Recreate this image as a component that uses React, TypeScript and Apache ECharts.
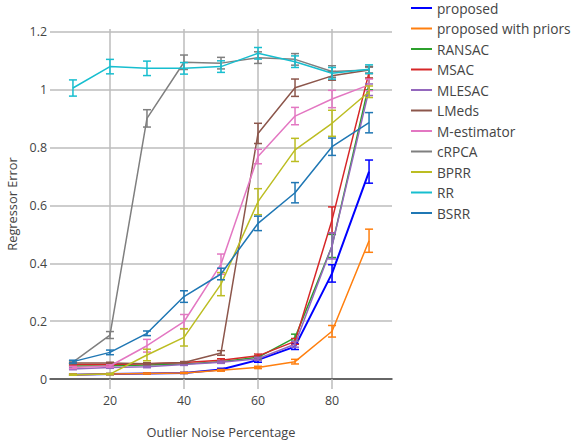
import React, { useEffect, useRef } from "react";
import * as echarts from "echarts";

const xValues = [10, 20, 30, 40, 50, 60, 70, 80, 90];
const xTicks = [20, 40, 60, 80];
const yTicks = [0, 0.2, 0.4, 0.6, 0.8, 1, 1.2];

const proposed = [0.015, 0.017, 0.019, 0.021, 0.033, 0.066, 0.112, 0.365, 0.717];
const proposedErr = [0.002, 0.002, 0.002, 0.002, 0.004, 0.008, 0.01, 0.03, 0.04];
const priors = [0.015, 0.017, 0.019, 0.021, 0.03, 0.04, 0.06, 0.165, 0.478];
const priorsErr = [0.002, 0.002, 0.002, 0.002, 0.003, 0.004, 0.008, 0.02, 0.04];
const ransac = [0.045, 0.046, 0.048, 0.052, 0.06, 0.075, 0.143, 0.46, 1.02];
const ransacErr = [0.003, 0.003, 0.003, 0.003, 0.004, 0.005, 0.012, 0.04, 0.02];
const msac = [0.05, 0.05, 0.053, 0.057, 0.065, 0.08, 0.13, 0.55, 1.06];
const msacErr = [0.003, 0.003, 0.003, 0.003, 0.005, 0.006, 0.01, 0.045, 0.02];
const mlesac = [0.035, 0.04, 0.042, 0.05, 0.058, 0.07, 0.12, 0.46, 1.0];
const mlesacErr = [0.003, 0.003, 0.003, 0.003, 0.004, 0.005, 0.01, 0.045, 0.02];
const lmeds = [0.055, 0.055, 0.053, 0.057, 0.09, 0.849, 1.007, 1.048, 1.068];
const lmedsErr = [0.003, 0.003, 0.003, 0.003, 0.008, 0.035, 0.03, 0.015, 0.012];
const mest = [0.04, 0.045, 0.115, 0.198, 0.397, 0.769, 0.909, 0.968, 1.017];
const mestErr = [0.004, 0.004, 0.022, 0.025, 0.035, 0.025, 0.03, 0.03, 0.02];
const crpca = [0.058, 0.152, 0.901, 1.095, 1.092, 1.111, 1.105, 1.063, 1.068];
const crpcaErr = [0.004, 0.012, 0.03, 0.025, 0.02, 0.02, 0.02, 0.02, 0.01];
const bprr = [0.015, 0.017, 0.083, 0.144, 0.328, 0.613, 0.792, 0.884, 0.993];
const bprrErr = [0.002, 0.002, 0.02, 0.03, 0.04, 0.045, 0.04, 0.045, 0.02];
const rr = [1.006, 1.08, 1.074, 1.074, 1.08, 1.126, 1.097, 1.057, 1.071];
const rrErr = [0.028, 0.025, 0.025, 0.02, 0.02, 0.02, 0.02, 0.02, 0.015];
const bsrr = [0.06, 0.092, 0.158, 0.285, 0.363, 0.538, 0.644, 0.803, 0.886];
const bsrrErr = [0.005, 0.008, 0.008, 0.02, 0.02, 0.025, 0.035, 0.03, 0.035];

const traces = [
  { name: "proposed", color: "#0000ff", y: proposed, e: proposedErr, w: 2 },
  { name: "proposed with priors", color: "#ff7f0e", y: priors, e: priorsErr, w: 1.5 },
  { name: "RANSAC", color: "#2ca02c", y: ransac, e: ransacErr, w: 1.5 },
  { name: "MSAC", color: "#d62728", y: msac, e: msacErr, w: 1.5 },
  { name: "MLESAC", color: "#9467bd", y: mlesac, e: mlesacErr, w: 1.5 },
  { name: "LMeds", color: "#8c564b", y: lmeds, e: lmedsErr, w: 1.5 },
  { name: "M-estimator", color: "#e377c2", y: mest, e: mestErr, w: 1.5 },
  { name: "cRPCA", color: "#7f7f7f", y: crpca, e: crpcaErr, w: 1.5 },
  { name: "BPRR", color: "#bcbd22", y: bprr, e: bprrErr, w: 1.5 },
  { name: "RR", color: "#17becf", y: rr, e: rrErr, w: 1.5 },
  { name: "BSRR", color: "#1f77b4", y: bsrr, e: bsrrErr, w: 1.5 },
];

export default function App() {
  const ref = useRef<HTMLDivElement>(null);
  useEffect(() => {
    if (!ref.current) return;
    const chart = echarts.init(ref.current, null, { renderer: "svg" });
    const series: any[] = [];
    traces.forEach((t, ti) => {
      series.push({
        name: t.name,
        type: "line",
        data: xValues.map((x, i) => [x, t.y[i]]),
        showSymbol: false,
        symbol: "none",
        color: t.color,
        lineStyle: { color: t.color, width: t.w },
        z: 2 + ti * 0.01,
      });
      series.push({
        name: t.name + "_err",
        type: "custom",
        data: xValues.map((x, i) => [x, t.y[i] - t.e[i], t.y[i] + t.e[i]]),
        renderItem: (params: any, api: any) => {
          const x = api.value(0);
          const lo = api.coord([x, api.value(1)]);
          const hi = api.coord([x, api.value(2)]);
          const hw = 4;
          const style = { stroke: t.color, lineWidth: 1.5, fill: "none" };
          return {
            type: "group",
            children: [
              { type: "line", shape: { x1: lo[0], y1: lo[1], x2: hi[0], y2: hi[1] }, style },
              { type: "line", shape: { x1: lo[0] - hw, y1: lo[1], x2: lo[0] + hw, y2: lo[1] }, style },
              { type: "line", shape: { x1: hi[0] - hw, y1: hi[1], x2: hi[0] + hw, y2: hi[1] }, style },
            ],
          };
        },
        encode: { x: 0, y: [1, 2] },
        z: 2 + ti * 0.01,
        silent: true,
      });
    });

    chart.setOption({
      animation: false,
      textStyle: { fontFamily: "Open Sans" },
      grid: { left: 50, top: 29, right: 183, bottom: 65, containLabel: false, outerBoundsMode: "none" },
      legend: {
        data: traces.map((t) => t.name),
        orient: "vertical",
        left: 411,
        top: 0,
        padding: 0,
        itemWidth: 21,
        itemHeight: 2,
        itemGap: 4.5,
        icon: "rect",
        textStyle: { fontFamily: "Open Sans", fontSize: 13.7, color: "#444", lineHeight: 16 },
        selectedMode: false,
      },
      xAxis: {
        type: "value",
        min: 3.8,
        max: 96.2,
        name: "Outlier Noise Percentage",
        nameLocation: "middle",
        nameGap: 46,
        nameTextStyle: { fontFamily: "Open Sans", fontSize: 12.8, color: "#444" },
        axisLine: { show: true, onZero: false, lineStyle: { color: "#444", width: 1.5 } },
        axisTick: { show: true, length: 10, customValues: xTicks, lineStyle: { color: "#bbb", width: 1.5 } },
        axisLabel: { customValues: xTicks, margin: 15, fontSize: 12.4, color: "#444", fontFamily: "Open Sans" },
        splitLine: { show: true, lineStyle: { color: "#bdbdbd", width: 1.5 } },
      },
      yAxis: {
        type: "value",
        min: 0,
        max: 1.21,
        name: "Regressor Error",
        nameLocation: "middle",
        nameGap: 31,
        nameTextStyle: { fontFamily: "Open Sans", fontSize: 12.8, color: "#444" },
        axisLine: { show: false },
        axisTick: { show: false, customValues: yTicks },
        axisLabel: { customValues: yTicks, margin: 3, fontSize: 12.4, color: "#444", fontFamily: "Open Sans" },
        splitLine: { show: true, lineStyle: { color: "#bdbdbd", width: 1.5 } },
      },
      series,
    });
    return () => chart.dispose();
  }, []);
  return (
    <div
      ref={ref}
      style={{ position: "fixed", left: 0, top: 0, width: 575, height: 444, background: "#fff" }}
    />
  );
}
